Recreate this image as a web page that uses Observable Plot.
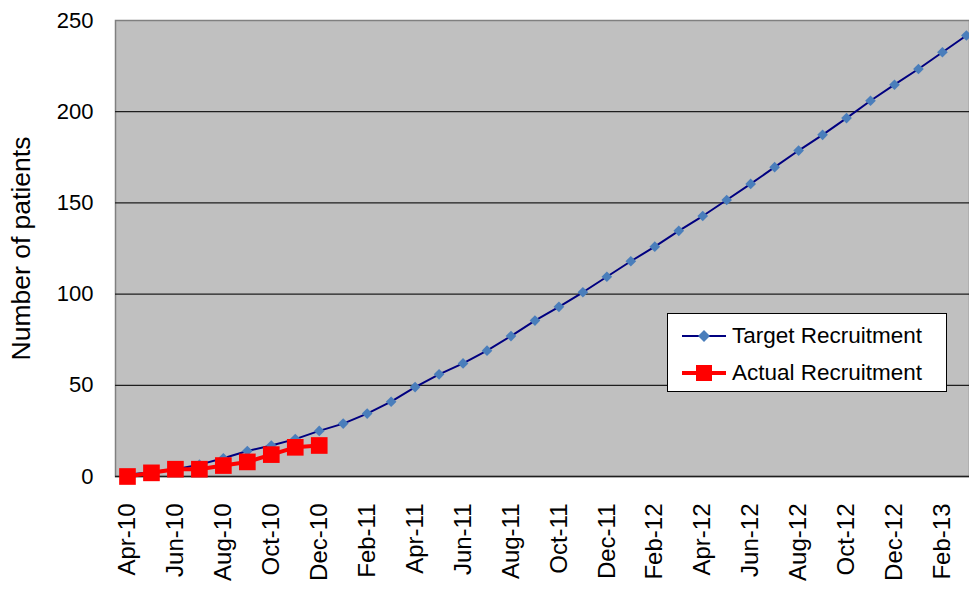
<!DOCTYPE html>
<html><head><meta charset="utf-8">
<script src="https://cdn.jsdelivr.net/npm/d3@7"></script>
<script src="https://cdn.jsdelivr.net/npm/@observablehq/plot@0.6"></script>
<style>
body{margin:0;background:#fff;font-family:"Liberation Sans",Arial,sans-serif;}
#wrap{position:relative;width:969px;height:590px;overflow:hidden;}
#legend{position:absolute;left:667px;top:313px;width:278px;height:77px;background:#fff;border:1px solid #000;font-size:22.5px;color:#000;}
#legend .row{position:absolute;left:0;height:30px;width:100%;}
#legend .row svg{position:absolute;left:14px;top:0;}
#legend .row span{position:absolute;left:64px;top:1px;line-height:28px;white-space:nowrap;}
</style></head><body><div id="wrap"></div>
<script>
const months = ["Apr-10","May-10","Jun-10","Jul-10","Aug-10","Sep-10","Oct-10","Nov-10","Dec-10","Jan-11","Feb-11","Mar-11",
  "Apr-11","May-11","Jun-11","Jul-11","Aug-11","Sep-11","Oct-11","Nov-11","Dec-11","Jan-12","Feb-12","Mar-12",
  "Apr-12","May-12","Jun-12","Jul-12","Aug-12","Sep-12","Oct-12","Nov-12","Dec-12","Jan-13","Feb-13","Mar-13"];
const target = [1,2.5,4,6.5,10,14,17,20.5,25,29,34.5,41,
  49,56,62,69,77,85.5,93,101,109.5,118,126,134.7,
  142.8,151.6,160.4,169.6,178.7,187.3,196.5,206,214.8,223.4,232.6,241.8];
const actual = [0,2,4,4,6,8,12,16,17];
const xTickLabels = ["Apr-10","Jun-10","Aug-10","Oct-10","Dec-10","Feb-11","Apr-11","Jun-11","Aug-11","Oct-11","Dec-11","Feb-12","Apr-12","Jun-12","Aug-12","Oct-12","Dec-12","Feb-13"];
const yTicks = [0,50,100,150,200,250];
const gridValues = [50,100,150,200];

const targetData = target.map((v,i)=>({i, v}));
const actualData = actual.map((v,i)=>({i, v}));
const xTicks = xTickLabels.map(l => months.indexOf(l));

const chart = Plot.plot({
  width: 969, height: 590,
  marginLeft: 115, marginRight: 0, marginTop: 20, marginBottom: 114,
  style: {fontFamily: "'Liberation Sans', Arial, sans-serif", background: "transparent", color: "#000"},
  x: {domain: [-0.5, 35.13]},
  y: {domain: [0, 250]},
  marks: [
    Plot.frame({fill: "#c0c0c0", stroke: "#808080", strokeWidth: 1.5}),
    Plot.ruleY(gridValues, {stroke: "#1e1e1e", strokeWidth: 1.3}),
    Plot.ruleY([0], {stroke: "#1e1e1e", strokeWidth: 1.6}),
    Plot.axisY({ticks: yTicks, tickSize: 0, tickPadding: 22, fontSize: 22, label: null}),
    Plot.axisY({ticks: [], tickSize: 0, fontSize: 26.5,
      label: "Number of patients", labelAnchor: "center", labelArrow: "none", labelOffset: 104}),
    Plot.axisX({ticks: xTicks, tickFormat: i => months[i], tickRotate: -90, tickSize: 0, tickPadding: 27, fontSize: 24, label: null}),
    Plot.line(targetData, {x: "i", y: "v", stroke: "#000080", strokeWidth: 2}),
    Plot.dot(targetData, {x: "i", y: "v", symbol: "diamond2", r: 4.8, fill: "#4a7ebb", stroke: "none"}),
    Plot.line(actualData, {x: "i", y: "v", stroke: "#ff0000", strokeWidth: 4}),
    Plot.dot(actualData, {x: "i", y: "v", symbol: "square", r: 9.4, fill: "#ff0000", stroke: "none"})
  ]
});
const wrap = document.getElementById("wrap");
wrap.appendChild(chart);

const legendItems = [
  {label: "Target Recruitment", stroke: "#000080", sw: 2, fill: "#4a7ebb", shape: "diamond"},
  {label: "Actual Recruitment", stroke: "#ff0000", sw: 4, fill: "#ff0000", shape: "square"}
];
const legend = document.createElement("div");
legend.id = "legend";
legendItems.forEach((it, k) => {
  const row = document.createElement("div");
  row.className = "row";
  row.style.top = (7 + k * 37) + "px";
  const marker = it.shape === "diamond"
    ? `<path d="M22,9 L28,15 L22,21 L16,15 Z" fill="${it.fill}"/>`
    : `<rect x="14" y="7" width="16" height="16" fill="${it.fill}"/>`;
  row.innerHTML = `<svg width="46" height="30"><line x1="0" x2="44" y1="15" y2="15" stroke="${it.stroke}" stroke-width="${it.sw}"/>${marker}</svg><span>${it.label}</span>`;
  legend.appendChild(row);
});
wrap.appendChild(legend);
</script>
</body></html>
